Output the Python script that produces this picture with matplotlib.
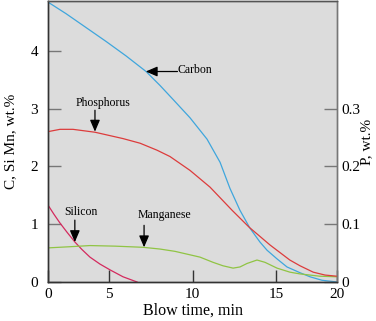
import numpy as np
import matplotlib
matplotlib.use("Agg")
import matplotlib.pyplot as plt

plt.rcParams["font.family"] = ["Liberation Serif", "DejaVu Serif"]

# blow time, min and concentrations (wt.%)
carbon_t = [0.0, 1.48, 3.12, 4.76, 6.02, 7.22, 8.05, 8.89, 9.85, 10.87, 11.65, 12.24,
            12.84, 13.44, 14.04, 14.46, 15.08, 15.90, 16.97, 17.79, 18.77, 20.0]
carbon_v = [4.84, 4.64, 4.40, 4.16, 3.91, 3.64, 3.40, 3.14, 2.84, 2.47, 2.07, 1.62,
            1.24, 0.93, 0.69, 0.55, 0.40, 0.26, 0.16, 0.09, 0.03, 0.0]

phos_t = [0.0, 0.98, 2.05, 3.85, 5.84, 6.86, 7.87, 8.65, 9.85, 11.05, 12.37, 13.38,
          14.64, 16.13, 16.97, 18.05, 19.02, 20.0]
phos_v = [0.260, 0.264, 0.264, 0.259, 0.248, 0.240, 0.228, 0.217, 0.193, 0.164, 0.124,
          0.095, 0.064, 0.038, 0.028, 0.017, 0.012, 0.010]

silicon_t = [0.0, 0.49, 0.98, 1.56, 2.21, 2.79, 3.44, 4.26, 5.06, 5.84, 6.68]
silicon_v = [1.33, 1.17, 1.02, 0.86, 0.69, 0.56, 0.43, 0.31, 0.21, 0.09, 0.0]

mn_t = [0.0, 1.80, 3.44, 5.36, 7.04, 8.05, 8.95, 9.85, 10.45, 11.23, 11.83, 12.43,
        12.84, 13.26, 13.86, 14.34, 15.08, 16.14, 16.96, 18.60, 20.0]
mn_v = [0.59, 0.61, 0.63, 0.62, 0.60, 0.57, 0.53, 0.47, 0.43, 0.34, 0.28, 0.24,
        0.26, 0.32, 0.38, 0.34, 0.24, 0.17, 0.14, 0.10, 0.09]

x_ticks = [0, 5, 10, 15, 20]
left_ticks = [0, 1, 2, 3, 4]
right_ticks = [0, 0.1, 0.2, 0.3]

# the original time axis is not evenly spaced between its ticks
T_KNOTS = np.array([0, 5, 10, 15, 20])
U_KNOTS = np.array([0, 4.22, 10, 15.78, 20])


def fwd(t):
    t = np.asarray(t, dtype=float)
    return np.where(t < 0, t * 4.22 / 5, np.where(t > 20, 20 + (t - 20) * 4.22 / 5,
                                                  np.interp(t, T_KNOTS, U_KNOTS)))


def inv(u):
    u = np.asarray(u, dtype=float)
    return np.where(u < 0, u * 5 / 4.22, np.where(u > 20, 20 + (u - 20) * 5 / 4.22,
                                                  np.interp(u, U_KNOTS, T_KNOTS)))


bg = "#dcdcdc"
c_carbon = "#3fa6dc"
c_phos = "#dc3c3c"
c_si = "#d42a5e"
c_mn = "#90c444"

fig = plt.figure(figsize=(3.76, 3.21), dpi=100)
ax = fig.add_axes([0.1277, 0.1215, 0.7686, 0.8755])
ax.set_facecolor(bg)
ax.set_xscale("function", functions=(fwd, inv))
ax.set_xlim(0, 20)
ax.set_ylim(0, 4.86)

ax.plot(carbon_t, carbon_v, color=c_carbon, lw=0.9)
ax.plot(silicon_t, silicon_v, color=c_si, lw=0.9)
ax.plot(mn_t, mn_v, color=c_mn, lw=0.9)

ax2 = ax.twinx()
ax2.set_ylim(0, 0.486)
ax2.plot(phos_t, phos_v, color=c_phos, lw=0.9)

ax.set_xticks(x_ticks)
ax.set_xticklabels([str(v) for v in x_ticks])
ax.tick_params(axis="x", direction="in", length=9, width=1, color="#333333",
               labelsize=11, pad=4.5)
ax.set_yticks(left_ticks)
ax.set_yticklabels([str(v) for v in left_ticks])
ax.tick_params(axis="y", direction="in", length=9.5, width=1, color="#777777",
               labelsize=11, pad=7)
ax2.set_yticks(right_ticks)
ax2.set_yticklabels(["0", "0.1", "0.2", "0.3"])
ax2.tick_params(axis="y", direction="in", length=9.5, width=1, color="#777777",
                labelsize=11, pad=3)

for a in (ax, ax2):
    for s in a.spines.values():
        s.set_linewidth(1)
    a.spines["left"].set_color("#333333")
    a.spines["bottom"].set_color("#333333")
    a.spines["top"].set_color("#555555")
    a.spines["right"].set_color("#777777")

ax.set_xlabel("Blow time, min", fontsize=11.5, labelpad=1)
ax.set_ylabel("C, Si Mn, wt.%", fontsize=11, labelpad=10)
ax2.set_ylabel("P, wt.%", fontsize=11, labelpad=0)

arrow = dict(arrowstyle="-|>,head_length=0.7,head_width=0.3", color="black", lw=0.9,
             shrinkA=0, shrinkB=0)
fs = 8.5

ax.annotate("", xy=(7.2, 3.64), xytext=(9.1, 3.64), arrowprops=arrow)
ax.text(9.1, 3.66, "Carbon", fontsize=fs, ha="left", va="center")

ax.annotate("", xy=(3.85, 2.60), xytext=(3.85, 2.97), arrowprops=arrow)
ax.text(4.5, 3.09, "Phosphorus", fontsize=fs, ha="center", va="center")

ax.annotate("", xy=(2.2, 0.69), xytext=(2.2, 1.07), arrowprops=arrow)
ax.text(2.7, 1.21, "Silicon", fontsize=fs, ha="center", va="center")

ax.annotate("", xy=(7.1, 0.60), xytext=(7.1, 0.98), arrowprops=arrow)
ax.text(8.3, 1.16, "Manganese", fontsize=fs, ha="center", va="center")

fig.savefig("out.png", dpi=100)
